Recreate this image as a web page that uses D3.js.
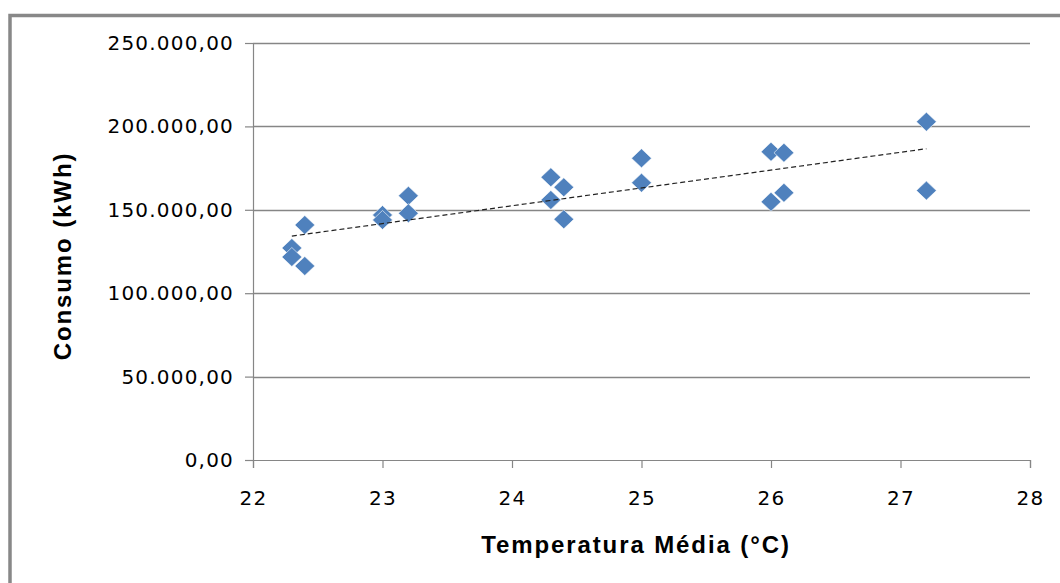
<!DOCTYPE html>
<html lang="pt">
<head>
<meta charset="UTF-8" />
<title>Consumo x Temperatura</title>
<style>
  html, body { margin: 0; padding: 0; background: #fff; }
  svg { display: block; }
  .tick-label { font-family: "DejaVu Sans", sans-serif; font-size: 20px; letter-spacing: 1.2px; fill: #000; }
  .axis-title { font-family: "Liberation Sans", Arial, sans-serif; font-weight: bold; font-size: 24px; letter-spacing: 1.9px; fill: #000; }
</style>
</head>
<body>
<svg id="chart"></svg>
<script src="https://d3js.org/d3.v7.min.js"></script>
<script>
// temperatura média (°C) e consumo (kWh)
const temperatura = [22.3, 22.3, 22.4, 22.4, 23.0, 23.0, 23.2, 23.2, 24.3, 24.3,
                     24.4, 24.4, 25.0, 25.0, 26.0, 26.1, 26.0, 26.1, 27.2, 27.2];
const consumo = [127100, 121700, 116300, 140900, 146900, 143900, 158400, 147900, 169500, 155900,
                 163500, 144300, 180900, 166200, 184800, 184200, 154800, 160200, 202800, 161500];
const xTicks = [22, 23, 24, 25, 26, 27, 28];
const yTicks = [0, 50000, 100000, 150000, 200000, 250000];

const width = 1060, height = 583;
const svg = d3.select('#chart').attr('width', width).attr('height', height);

const x = d3.scaleLinear().domain([22, 28]).range([253, 1030]);
const y = d3.scaleLinear().domain([0, 250000]).range([460, 43]);

const pt = d3.formatLocale({ decimal: ',', thousands: '.', grouping: [3], currency: ['R$', ''] });
const fmt = pt.format(',.2f');

// moldura do gráfico (cortada à direita e embaixo)
svg.append('path')
    .attr('d', `M10,${height + 5} L10,15.5 L${width + 5},15.5`)
    .attr('fill', 'none')
    .attr('stroke', '#888')
    .attr('stroke-width', 3.5);

// linhas de grade
svg.append('g').selectAll('line')
    .data(yTicks.slice(1))
    .enter().append('line')
    .attr('x1', x(22)).attr('x2', x(28))
    .attr('y1', d => Math.round(y(d)) + 0.5).attr('y2', d => Math.round(y(d)) + 0.5)
    .attr('stroke', '#868686')
    .attr('stroke-width', 1.5);

// eixo y
const yAxis = svg.append('g')
    .attr('transform', `translate(${x(22)},0)`)
    .call(d3.axisLeft(y).tickValues(yTicks).tickSize(8).tickPadding(11).tickFormat(fmt));
yAxis.select('.domain').attr('stroke', '#868686').attr('stroke-width', 1.2);
yAxis.selectAll('.tick line').attr('stroke', '#868686').attr('stroke-width', 1.2);
yAxis.selectAll('.tick text').attr('class', 'tick-label').attr('font-size', null).attr('font-family', null);

// eixo x
const xAxis = svg.append('g')
    .attr('transform', `translate(0,${y(0)})`)
    .call(d3.axisBottom(x).tickValues(xTicks).tickSize(8).tickPadding(23).tickFormat(d3.format('d')));
xAxis.select('.domain').attr('stroke', '#868686').attr('stroke-width', 1.2);
xAxis.selectAll('.tick line').attr('stroke', '#868686').attr('stroke-width', 1.2);
xAxis.selectAll('.tick text').attr('class', 'tick-label').attr('font-size', null).attr('font-family', null);

// pontos (losangos)
const diamond = 'M0,-9.5 L10,0 L0,9.5 L-10,0 Z';
svg.append('g').selectAll('path')
    .data(temperatura.map((t, i) => ({ t: t, c: consumo[i] })))
    .enter().append('path')
    .attr('d', diamond)
    .attr('transform', d => `translate(${x(d.t)},${y(d.c)})`)
    .attr('fill', '#4F81BD')
    .attr('stroke', '#fff')
    .attr('stroke-width', 0.6);

// linha de tendência linear (mínimos quadrados)
const mx = d3.mean(temperatura), my = d3.mean(consumo);
const slope = d3.sum(temperatura, (t, i) => (t - mx) * (consumo[i] - my)) /
              d3.sum(temperatura, t => (t - mx) * (t - mx));
const icpt = my - slope * mx;
const tx = d3.extent(temperatura);
svg.append('line')
    .attr('x1', x(tx[0])).attr('y1', y(icpt + slope * tx[0]))
    .attr('x2', x(tx[1])).attr('y2', y(icpt + slope * tx[1]))
    .attr('stroke', '#222')
    .attr('stroke-width', 1.2)
    .attr('stroke-dasharray', '5,3');

// títulos dos eixos
svg.append('text')
    .attr('class', 'axis-title')
    .attr('text-anchor', 'middle')
    .attr('x', 636).attr('y', 553)
    .text('Temperatura Média (°C)');

svg.append('text')
    .attr('class', 'axis-title')
    .attr('text-anchor', 'middle')
    .attr('transform', 'translate(71,256) rotate(-90)')
    .text('Consumo (kWh)');
</script>
</body>
</html>
